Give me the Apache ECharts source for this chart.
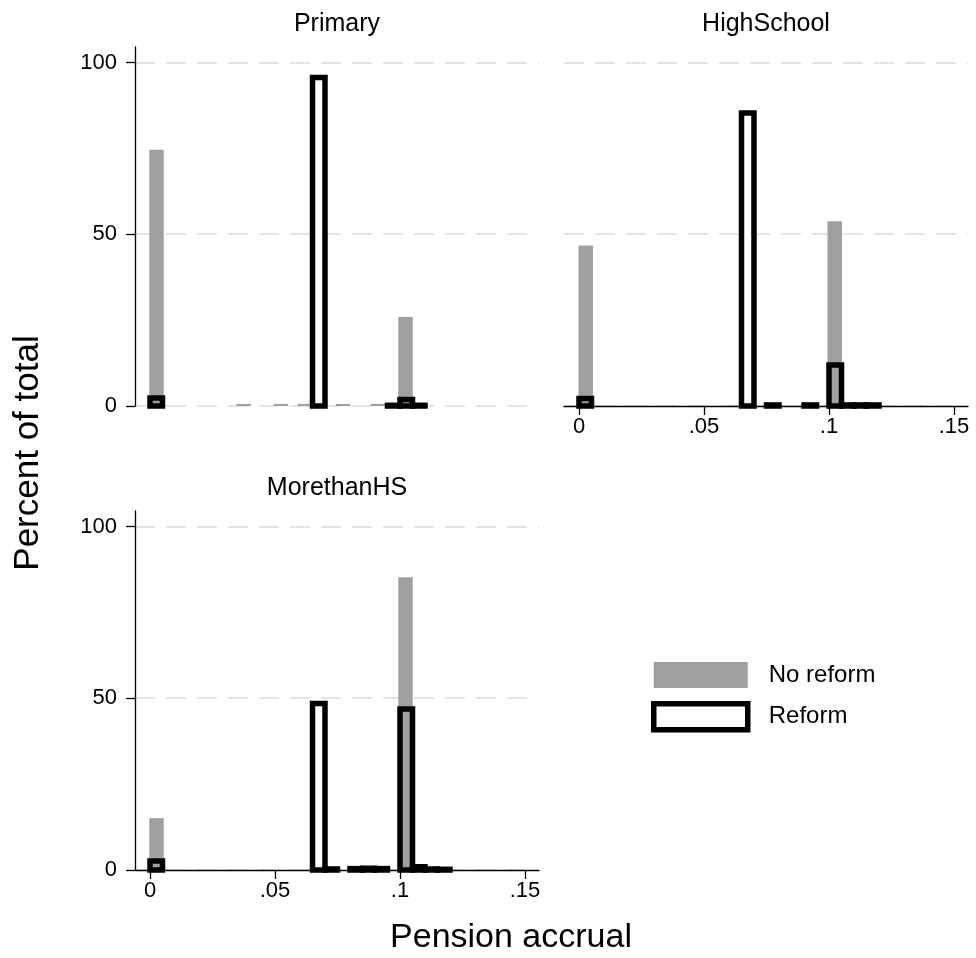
<!DOCTYPE html>
<html>
<head>
<meta charset="utf-8">
<script src="https://cdn.jsdelivr.net/npm/echarts@6/dist/echarts.min.js"></script>
<style>html,body{margin:0;padding:0;background:#fff}#c{width:976px;height:958px}</style>
</head>
<body>
<div id="c"></div>
<script>
// ---- data ----
const panelTitles = ['Primary', 'HighSchool', 'MorethanHS'];
const xTicks = [0, 0.05, 0.1, 0.15];
const xTickLabels = ['0', '.05', '.1', '.15'];
const yTicks = [0, 50, 100];
const legendNames = ['No reform', 'Reform'];
const noReformBinWidth = 0.0058;
const reformBinWidth = 0.005;

// No reform (grey bars): bin centres and percent of total
const primaryNoReformX   = [0.0026, 0.0375, 0.0524, 0.0620, 0.0772, 0.0912, 0.1022];
const primaryNoReformPct = [74.6, 0.6, 0.6, 0.6, 0.6, 0.6, 25.9];
const highNoReformX      = [0.0027, 0.0470, 0.0615, 0.1023];
const highNoReformPct    = [46.7, 0.3, 0.3, 53.8];
const moreNoReformX      = [0.0026, 0.1022];
const moreNoReformPct    = [15.1, 85.2];

// Reform (outlined bars)
const primaryReformX   = [0.0025, 0.0675, 0.0975, 0.1025, 0.1075];
const primaryReformPct = [2.3, 95.6, 0.2, 1.9, 0.2];
const highReformX      = [0.0025, 0.0675, 0.0775, 0.0925, 0.1025, 0.1075, 0.1125, 0.1175];
const highReformPct    = [2.2, 85.3, 0.3, 0.3, 11.9, 0.3, 0.3, 0.3];
const moreReformX      = [0.0025, 0.0675, 0.0725, 0.0825, 0.0875, 0.0925, 0.1025, 0.1075, 0.1125, 0.1175];
const moreReformPct    = [2.6, 48.5, 0.3, 0.4, 0.5, 0.4, 46.9, 0.95, 0.3, 0.2];

// ---- chart ----
const FONT = '"Liberation Sans", Arial, Helvetica, sans-serif';
const GREY = '#a0a0a0';
const REFORM_LW = 5.5;

const noReform = [
  [primaryNoReformX, primaryNoReformPct],
  [highNoReformX, highNoReformPct],
  [moreNoReformX, moreNoReformPct]
];
const reform = [
  [primaryReformX, primaryReformPct],
  [highReformX, highReformPct],
  [moreReformX, moreReformPct]
];

function pairs(xs, vs) { return xs.map((x, i) => [x, vs[i]]); }

function barRenderer(width, styleFn) {
  return function (params, api) {
    const c = api.value(0), v = api.value(1);
    const p0 = api.coord([c - width / 2, v]);
    const p1 = api.coord([c + width / 2, 0]);
    return {
      type: 'rect',
      shape: { x: p0[0], y: p0[1], width: p1[0] - p0[0], height: p1[1] - p0[1] },
      style: styleFn()
    };
  };
}

const grids = [
  { left: 135, top: 47, width: 404, height: 359 },
  { left: 564, top: 47, width: 404, height: 359 },
  { left: 135, top: 511, width: 404, height: 359 }
];

const gridLine = { show: true, showMinLine: true, showMaxLine: true, lineStyle: { color: '#dcdcdc', width: 1.5, type: [20, 11] } };

function xLabel(v) {
  for (let i = 0; i < xTicks.length; i++) if (Math.abs(xTicks[i] - v) < 1e-9) return xTickLabels[i];
  return '';
}

const xAxes = [0, 1, 2].map(i => ({
  gridIndex: i, type: 'value', min: -0.006, max: 0.1556,
  show: i !== 0,
  axisLine: { show: true, onZero: false, lineStyle: { color: '#000', width: 1.3 } },
  axisTick: { show: true, length: 9, customValues: xTicks, lineStyle: { color: '#000', width: 1.3 } },
  axisLabel: { show: true, customValues: xTicks, formatter: xLabel, margin: 10, fontSize: 22, color: '#000', fontFamily: FONT },
  splitLine: { show: false }
}));

const yAxes = [0, 1, 2].map(i => ({
  gridIndex: i, type: 'value', min: 0, max: 104.5, interval: 50,
  axisLine: { show: i !== 1, onZero: false, lineStyle: { color: '#000', width: 1.3 } },
  axisTick: { show: i !== 1, length: 9, customValues: yTicks, lineStyle: { color: '#000', width: 1.3 } },
  axisLabel: { show: i !== 1, customValues: yTicks, margin: 18, fontSize: 22, color: '#000', fontFamily: FONT },
  splitLine: gridLine
}));

const series = [];
for (let i = 0; i < 3; i++) {
  series.push({
    type: 'custom', name: legendNames[0], xAxisIndex: i, yAxisIndex: i, z: 2,
    itemStyle: { color: GREY },
    renderItem: barRenderer(noReformBinWidth, () => ({ fill: GREY })),
    data: pairs(noReform[i][0], noReform[i][1]),
    silent: true
  });
}
for (let i = 0; i < 3; i++) {
  series.push({
    type: 'custom', name: legendNames[1], xAxisIndex: i, yAxisIndex: i, z: 3,
    itemStyle: { color: '#fff', borderColor: '#000', borderWidth: REFORM_LW },
    renderItem: barRenderer(reformBinWidth, () => ({ fill: 'rgba(0,0,0,0)', stroke: '#000', lineWidth: REFORM_LW })),
    data: pairs(reform[i][0], reform[i][1]),
    silent: true
  });
}

const titleCenters = [[337, 24], [766, 24], [337, 488]];

const graphic = panelTitles.map((t, i) => ({
  type: 'text', x: titleCenters[i][0], y: titleCenters[i][1],
  style: { text: t, fontSize: 25, fontFamily: FONT, fill: '#000', align: 'center', verticalAlign: 'middle' }
}));
graphic.push({
  type: 'text', x: 28, y: 453, rotation: Math.PI / 2,
  style: { text: 'Percent of total', fontSize: 35, fontFamily: FONT, fill: '#000', align: 'center', verticalAlign: 'middle' }
});
graphic.push({
  type: 'text', x: 511, y: 938,
  style: { text: 'Pension accrual', fontSize: 34, fontFamily: FONT, fill: '#000', align: 'center', verticalAlign: 'middle' }
});

const chart = echarts.init(document.getElementById('c'), null, { renderer: 'canvas' });
chart.setOption({
  backgroundColor: '#fff',
  animation: false,
  grid: grids,
  xAxis: xAxes,
  yAxis: yAxes,
  legend: {
    orient: 'vertical', left: 651, top: 662, padding: 0,
    itemWidth: 94, itemHeight: 26, itemGap: 13,
    selectedMode: false,
    textStyle: { fontSize: 24, fontFamily: FONT, color: '#000', padding: [0, 0, 0, 16] },
    data: [
      { name: legendNames[0], icon: 'rect', itemStyle: { color: GREY, borderWidth: 0 } },
      { name: legendNames[1], icon: 'rect', itemStyle: { color: '#fff', borderColor: '#000', borderWidth: REFORM_LW } }
    ]
  },
  graphic: graphic,
  series: series
});
</script>
</body>
</html>
